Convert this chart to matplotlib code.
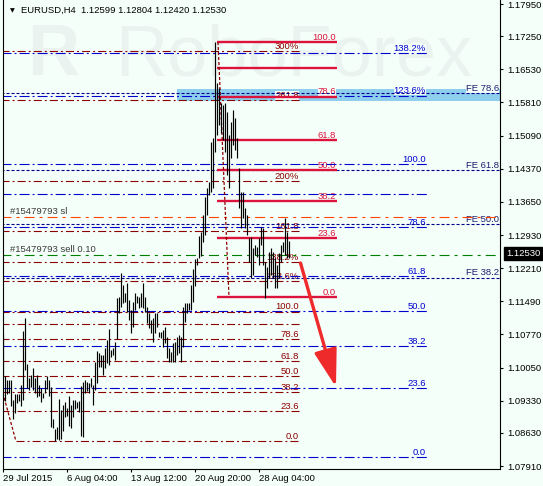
import matplotlib
matplotlib.use('Agg')
import matplotlib.pyplot as plt
from matplotlib.patches import Rectangle
import matplotlib.transforms as mtransforms
import numpy as np

plt.rcParams['lines.scale_dashes'] = False
plt.rcParams['font.family'] = ['Liberation Sans', 'DejaVu Sans']

# ---------------- data ----------------
title_text = "EURUSD,H4  1.12599 1.12804 1.12420 1.12530"
last_price = 1.12530

highs = [
    1.10779, 1.09866, 1.09779, 1.09779, 1.09779, 1.09344, 1.09475, 1.09475, 1.09475, 1.09670,
    1.10844, 1.11126, 1.10127, 1.09822, 1.09888, 1.10040, 1.09822, 1.09888, 1.09670, 1.09605,
    1.09496, 1.09779, 1.09866, 1.09779, 1.09627, 1.08931, 1.08714, 1.08757, 1.09366, 1.09127,
    1.09236, 1.09301, 1.09170, 1.09431, 1.09236, 1.09344, 1.09344, 1.09301, 1.09323, 1.09648,
    1.09735, 1.09779, 1.09735, 1.09714, 1.09822, 1.09670, 1.10170, 1.10409, 1.10366, 1.10322,
    1.10322, 1.10474, 1.10648, 1.10887, 1.10431, 1.10474, 1.10605, 1.11561, 1.11583, 1.12104,
    1.11843, 1.11670, 1.11887, 1.11517, 1.11300, 1.11474, 1.11670, 1.11604, 1.11583, 1.11670,
    1.11887, 1.11583, 1.11365, 1.11235, 1.11083, 1.11126, 1.11235, 1.11235, 1.10822, 1.10822,
    1.10865, 1.10931, 1.10713, 1.10474, 1.10387, 1.10583, 1.10605, 1.10713, 1.10757, 1.10713,
    1.11365, 1.11452, 1.11452, 1.11452, 1.11843, 1.12191, 1.12408, 1.12430, 1.12908, 1.12995,
    1.13365, 1.13756, 1.13951, 1.14082, 1.14951, 1.15038, 1.17124, 1.16233, 1.16125, 1.15799,
    1.15755, 1.15799, 1.15603, 1.15103, 1.15386, 1.15647, 1.15473, 1.15038, 1.14386, 1.13864,
    1.13864, 1.13517, 1.13365, 1.12865, 1.12887, 1.12648, 1.12713, 1.12669, 1.12865, 1.13104,
    1.13082, 1.12343, 1.12235, 1.12561, 1.12648, 1.12561, 1.12430, 1.12278, 1.12539, 1.12713,
    1.12778, 1.13299, 1.12995, 1.12804]

lows = [
    1.09844, 1.09323, 1.09475, 1.09496, 1.09214, 1.08931, 1.09062, 1.09279, 1.09323, 1.09214,
    1.09344, 1.09996, 1.09605, 1.09562, 1.09627, 1.09562, 1.09496, 1.09409, 1.09431, 1.09301,
    1.09388, 1.09496, 1.09583, 1.09431, 1.08757, 1.08736, 1.08453, 1.08497, 1.08475, 1.08497,
    1.08671, 1.08975, 1.08997, 1.08779, 1.08736, 1.08975, 1.09149, 1.09170, 1.09083, 1.08562,
    1.08540, 1.09496, 1.09540, 1.09496, 1.09627, 1.09236, 1.09562, 1.09714, 1.10061, 1.10061,
    1.09888, 1.10040, 1.10148, 1.10105, 1.10279, 1.10322, 1.10214, 1.10670, 1.11235, 1.11365,
    1.11452, 1.11474, 1.11257, 1.11083, 1.10800, 1.10931, 1.11300, 1.11452, 1.11344, 1.11365,
    1.11344, 1.11257, 1.11018, 1.10909, 1.10800, 1.10605, 1.10800, 1.10931, 1.10713, 1.10692,
    1.10496, 1.10583, 1.10257, 1.10170, 1.10170, 1.10170, 1.10170, 1.10322, 1.10366, 1.10170,
    1.10496, 1.11039, 1.11235, 1.11300, 1.11300, 1.11474, 1.11822, 1.12278, 1.12430, 1.12474,
    1.12778, 1.12930, 1.13365, 1.13799, 1.13864, 1.13951, 1.14734, 1.15103, 1.15321, 1.15147,
    1.14995, 1.14734, 1.14234, 1.13951, 1.14603, 1.14886, 1.14777, 1.14603, 1.13517, 1.13082,
    1.13299, 1.13082, 1.12930, 1.12343, 1.11996, 1.12061, 1.12495, 1.12452, 1.12278, 1.12713,
    1.12278, 1.11561, 1.11778, 1.11996, 1.12061, 1.11996, 1.11778, 1.11778, 1.11996, 1.12343,
    1.12561, 1.12495, 1.12430, 1.12420]

x_tick_bars = [0, 32, 64, 96, 128]
x_tick_labels = ['29 Jul 2015', '6 Aug 04:00', '13 Aug 12:00', '20 Aug 20:00', '28 Aug 04:00']
y_ticks = [1.17950, 1.17250, 1.16530, 1.15810, 1.15090, 1.14370, 1.13650, 1.12930,
           1.12210, 1.11490, 1.10770, 1.10050, 1.09330, 1.08630, 1.07910]

# older Fibonacci (dark red)
old_fib_levels = [1.16918, 1.15853, 1.14104, 1.13017, 1.12337, 1.11930, 1.11263, 1.10989,
                  1.10663, 1.10192, 1.09859, 1.09518, 1.09105, 1.08453]
old_fib_labels = ['300%', '261.8', '200%', '161.8', '138.2%', '123.6%', '100.0', '',
                  '78.6', '61.8', '50.0', '38.2', '23.6', '0.0']
old_fib_end = 148.3
old_fib_zero_start = 6.3
old_fib_diag = ([-0.2, 6.3], [1.09496, 1.08453])

# blue Fibonacci
blue_fib_levels = [1.16885, 1.15957, 1.14466, 1.13821, 1.13104, 1.12039, 1.11272, 1.10511,
                   1.09598, 1.08106]
blue_fib_labels = ['138.2%', '123.6%', '100.0', '', '78.6', '61.8', '50.0', '38.2', '23.6', '0.0']
blue_fib_end = 211.8

# Fibonacci expansion (navy, dotted)
fe_levels = [1.16016, 1.14343, 1.13169, 1.12002]
fe_labels = ['FE 78.6', 'FE 61.8', 'FE 50.0', 'FE 38.2']

# recent retracement (crimson, solid)
red_fib_levels = [1.17124, 1.16559, 1.15936, 1.14995, 1.14343, 1.13675, 1.12865, 1.11576]
red_fib_labels = ['100.0', '', '78.6', '61.8', '50.0', '38.2', '23.6', '0.0']
red_fib_start = 106.85
red_fib_end = 166.85
red_fib_diag = ([107.35, 112.85], [1.17124, 1.11583])

# zone, orders, arrow
zone_start = 86.85
zone_bottom, zone_top = 1.15842, 1.16103
sl_price = 1.13315
sell_price = 1.12489
sl_label = '#15479793 sl'
sell_label = '#15479793 sell 0.10'
arrow_start = (148.6, 1.12321)
arrow_end = (166.35, 1.09627)

# ---------------- style ----------------
BG = '#F5FFFA'
FS = 6.8
XMIN, XMAX = -0.15, 248.35
YMIN, YMAX = 1.07845, 1.18037
DASHDOT = (0, (5.8, 2.2, 1.4, 2.2))
DASHDOT_B = (0, (7.2, 2.2, 1.4, 2.2))
DOTS = (0, (2.2, 1.4))
ORDER_DD = (0, (7.2, 3.6, 2.2, 3.6))
DARKRED = '#8B0000'
BLUE = '#0000CD'
NAVY = '#00008B'
CRIMSON = '#DC143C'
WM = '#EBF3F0'

W, H = 543, 486
fig = plt.figure(figsize=(W / 100, H / 100), dpi=100)
fig.patch.set_facecolor(BG)
ax = fig.add_axes([3 / W, 17 / H, 497 / W, 469 / H])
ax.set_facecolor(BG)
ax.set_xlim(XMIN, XMAX)
ax.set_ylim(YMIN, YMAX)

for s in ['left', 'bottom', 'right']:
    ax.spines[s].set_linewidth(0.8)
    ax.spines[s].set_color('black')
ax.spines['top'].set_visible(False)

ax.yaxis.tick_right()
ax.set_yticks(y_ticks)
ax.set_yticklabels(['%.5f' % v for v in y_ticks])
ax.tick_params(axis='y', direction='out', length=2.5, width=0.8, pad=2.5, labelsize=FS)
ax.set_xticks(x_tick_bars)
ax.set_xticklabels(x_tick_labels, ha='left')
ax.tick_params(axis='x', direction='out', length=2.5, width=0.8, pad=1.2, labelsize=FS)

# watermark
ax.text(0.048, 0.84, 'R', transform=ax.transAxes, fontsize=52, fontweight='bold',
        color=WM, va='baseline', ha='left', zorder=0.5)
ax.text(0.225, 0.84, 'RoboForex', transform=ax.transAxes, fontsize=52,
        color=WM, va='baseline', ha='left', zorder=0.5)

# zone rectangle
ax.add_patch(Rectangle((zone_start, zone_bottom), XMAX - zone_start, zone_top - zone_bottom,
                       facecolor='#8DCFEC', edgecolor='none', zorder=1))


def hline(y, x0, x1, color, ls, lw, z):
    ax.plot([x0, x1], [y, y], color=color, lw=lw, linestyle=ls, zorder=z,
            solid_capstyle='butt', dash_capstyle='butt')


def label(y, x1, text, color, z=1.5):
    if text:
        ax.annotate(text, xy=(x1, y), xytext=(-0.7, 1.6), textcoords='offset points',
                    ha='right', va='baseline', fontsize=FS, color=color, zorder=z,
                    bbox=dict(facecolor=BG, edgecolor='none', pad=0))


for y, t in zip(old_fib_levels, old_fib_labels):
    x0 = old_fib_zero_start if t == '0.0' else XMIN - 1
    hline(y, x0, old_fib_end, DARKRED, DASHDOT, 0.8, 2)
    label(y, old_fib_end, t, DARKRED)
ax.plot(old_fib_diag[0], old_fib_diag[1], color=DARKRED, lw=0.9, linestyle=DOTS, zorder=2)

for y, t in zip(blue_fib_levels, blue_fib_labels):
    hline(y, XMIN - 1, blue_fib_end, BLUE, DASHDOT_B, 0.8, 2)
    label(y, blue_fib_end, t, BLUE)

for y, t in zip(fe_levels, fe_labels):
    hline(y, XMIN - 1, XMAX + 1, NAVY, DOTS, 0.8, 2.2)
    label(y, XMAX, t, '#1C1C70')

hline(sl_price, XMIN - 1, XMAX + 1, '#FF4500', ORDER_DD, 0.8, 2.3)
hline(sell_price, XMIN - 1, XMAX + 1, '#008000', ORDER_DD, 0.8, 2.3)
ax.annotate(sl_label, xy=(3.35, sl_price), xytext=(0, 2.2), textcoords='offset points',
            ha='left', va='baseline', fontsize=FS, color='#3A3A3A', zorder=1.5)
ax.annotate(sell_label, xy=(3.35, sell_price), xytext=(0, 2.2), textcoords='offset points',
            ha='left', va='baseline', fontsize=FS, color='#3A3A3A', zorder=1.5)

for y, t in zip(red_fib_levels, red_fib_labels):
    hline(y, red_fib_start, red_fib_end, CRIMSON, '-', 1.7, 4)
    label(y, red_fib_end, t, CRIMSON)
ax.plot(red_fib_diag[0], red_fib_diag[1], color=DARKRED, lw=0.9, linestyle=DOTS, zorder=4)

# bars
idx = np.arange(len(highs))
ax.vlines(idx, lows, highs, color='black', lw=0.85, zorder=6)

# arrow
ax.annotate('', xy=arrow_end, xytext=arrow_start,
            arrowprops=dict(arrowstyle='-|>,head_length=1.15,head_width=0.35',
                            mutation_scale=20, lw=2.4, color='#EE2A2A',
                            shrinkA=0, shrinkB=0), zorder=7)

# title
ax.text(18 / 497, 1 - 10 / 469, title_text, transform=ax.transAxes, fontsize=FS,
        va='center', ha='left', color='black', zorder=8)
ax.text(9.5 / 497, 1 - 10.5 / 469, '\u25BC', transform=ax.transAxes, fontsize=4.5,
        va='center', ha='center', color='black', family=['DejaVu Sans'], zorder=8)

# current price box
trans = mtransforms.blended_transform_factory(ax.transAxes, ax.transData)
ax.text(1 + 6 / 497, last_price, '%.5f' % last_price, transform=trans, fontsize=FS,
        va='center', ha='left', color='white', zorder=9, clip_on=False,
        bbox=dict(facecolor='black', edgecolor='black', pad=1.2))

fig.savefig('out.png', dpi=100, facecolor=BG)
